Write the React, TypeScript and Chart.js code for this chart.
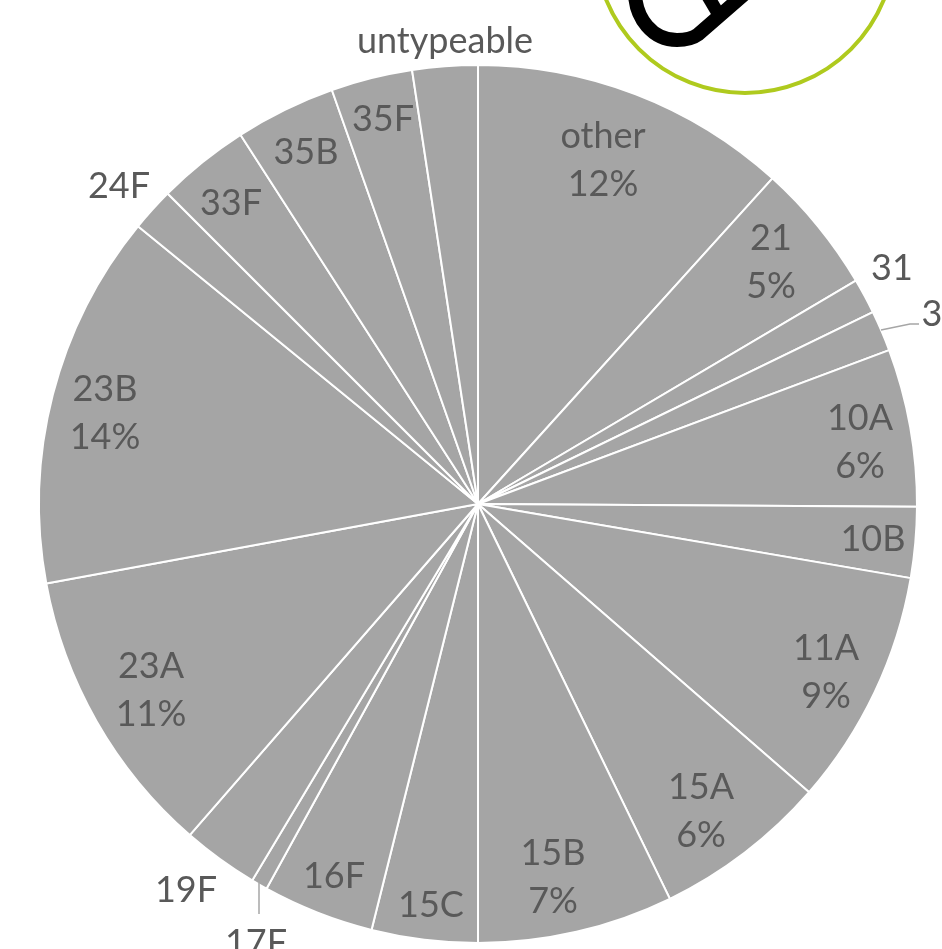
import { useEffect, useRef } from "react";
import { Chart, registerables } from "chart.js";

Chart.register(...registerables);

const categories = ["other", "21", "31", "3", "10A", "10B", "11A", "15A", "15B", "15C", "16F", "17F", "19F", "23A", "23B", "24F", "33F", "35B", "35F", "untypeable"];
const shares = [11.7, 4.8, 1.3, 1.5, 5.8, 2.6, 8.7, 6.4, 7.2, 3.9, 4.1, 0.6, 2.8, 10.7, 13.8, 1.6, 3.4, 3.7, 3.0, 2.4];
const categoriesWithPercent = ["other", "21", "10A", "11A", "15A", "15B", "23A", "23B"];

// Label centres as offsets from the pie centre, in pixels.
const labelOffsets: Record<string, [number, number]> = {
  other: [125, -345],
  "21": [293, -243],
  "31": [414, -237],
  "3": [454, -191],
  "10A": [382, -63],
  "10B": [395, 34],
  "11A": [348, 167],
  "15A": [223, 306],
  "15B": [75, 372],
  "15C": [-47, 400],
  "16F": [-144, 371],
  "17F": [-222, 438],
  "19F": [-292, 385],
  "23A": [-327, 185],
  "23B": [-373, -92],
  "24F": [-359, -319],
  "33F": [-247, -302],
  "35B": [-172, -353],
  "35F": [-95, -386],
  untypeable: [-33, -464],
};

// Leader lines for the two labels that sit outside thin slices.
const leaderOffsets: [number, number][][] = [
  [[403, -174], [432, -180], [441, -180]],
  [[-219, 379], [-219, 410]],
];

const labelColor = "#595959";
const sliceColor = "#a5a5a5";
const leaderColor = "#a6a6a6";
const badgeGreen = "#afca1e";

const pieLabels = {
  id: "pieLabels",
  afterDatasetsDraw(chart: Chart) {
    const ctx = chart.ctx;
    const arc = chart.getDatasetMeta(0).data[0] as any;
    const { x, y } = arc;
    ctx.save();
    ctx.strokeStyle = leaderColor;
    ctx.lineWidth = 1.5;
    for (const path of leaderOffsets) {
      ctx.beginPath();
      path.forEach(([dx, dy], i) => (i ? ctx.lineTo(x + dx, y + dy) : ctx.moveTo(x + dx, y + dy)));
      ctx.stroke();
    }
    ctx.fillStyle = labelColor;
    ctx.font = '36px Lato, "Open Sans", sans-serif';
    ctx.textAlign = "center";
    ctx.textBaseline = "middle";
    categories.forEach((name, i) => {
      const [dx, dy] = labelOffsets[name];
      const cy = y + dy + 1;
      if (categoriesWithPercent.includes(name)) {
        ctx.fillText(name, x + dx, cy - 24);
        ctx.fillText(`${Math.round(shares[i])}%`, x + dx, cy + 24);
      } else {
        ctx.fillText(name, x + dx, cy);
      }
    });
    ctx.restore();
  },
};

// Round badge with a capsule, cut off by the top edge of the page.
const capsuleBadge = {
  id: "capsuleBadge",
  afterDraw(chart: Chart) {
    const ctx = chart.ctx;
    ctx.save();
    ctx.strokeStyle = badgeGreen;
    ctx.lineWidth = 4;
    ctx.beginPath();
    ctx.arc(745, -57, 150, 0, Math.PI * 2);
    ctx.stroke();
    ctx.strokeStyle = "#000000";
    ctx.lineWidth = 14;
    ctx.lineCap = "butt";
    ctx.lineJoin = "round";
    ctx.beginPath();
    ctx.moveTo(635, -6);
    ctx.bezierCurveTo(636, 18, 652, 40, 677, 40);
    ctx.bezierCurveTo(686, 40, 692, 39, 698, 34.5);
    ctx.lineTo(750, -10.75);
    ctx.stroke();
    ctx.lineWidth = 13;
    ctx.beginPath();
    ctx.moveTo(703, -12);
    ctx.lineTo(722, 20);
    ctx.stroke();
    ctx.restore();
  },
};

export default function App() {
  const canvasRef = useRef<HTMLCanvasElement>(null);

  useEffect(() => {
    const chart = new Chart(canvasRef.current!, {
      type: "pie",
      data: {
        labels: categories,
        datasets: [
          {
            data: shares,
            backgroundColor: sliceColor,
            borderColor: "#ffffff",
            borderWidth: 2,
            hoverOffset: 0,
          },
        ],
      },
      options: {
        responsive: false,
        animation: false,
        layout: { padding: { left: 38, right: 24, top: 64, bottom: 5 } },
        plugins: { legend: { display: false }, tooltip: { enabled: false } },
      },
      plugins: [pieLabels, capsuleBadge],
    });
    return () => chart.destroy();
  }, []);

  return (
    <div style={{ position: "fixed", inset: 0, overflow: "hidden", background: "#ffffff" }}>
      <canvas ref={canvasRef} width={942} height={949} style={{ display: "block" }} />
    </div>
  );
}
